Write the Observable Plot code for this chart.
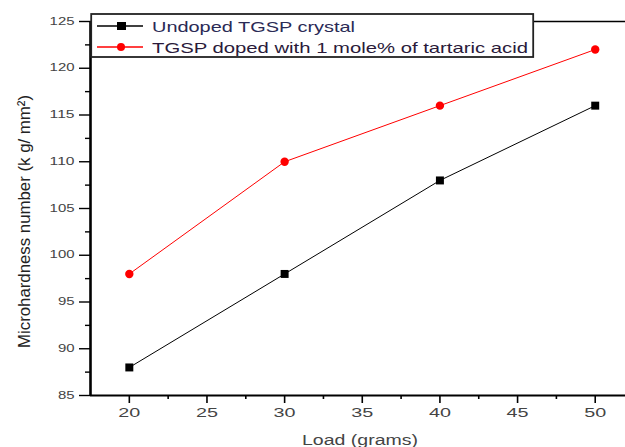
<!DOCTYPE html>
<html>
<head>
<meta charset="utf-8">
<script src="https://cdn.jsdelivr.net/npm/d3@7"></script>
<script src="https://cdn.jsdelivr.net/npm/@observablehq/plot@0.6"></script>
<style>
  html, body { margin: 0; padding: 0; background: #fff; }
  #wrap { position: relative; width: 625px; height: 447px; overflow: hidden; font-family: "Liberation Sans", Arial, sans-serif; }
  #legend { position: absolute; left: 90px; top: 13px; }
</style>
</head>
<body>
<div id="wrap"></div>
<script>
const loads = [20, 30, 40, 50];
const undoped = [88, 98, 108, 116];
const doped = [98, 110, 116, 122];
const seriesNames = ["Undoped TGSP crystal", "TGSP doped with 1 mole% of tartaric acid"];
const seriesColors = ["#000000", "#ff0000"];
const xMajor = [20, 25, 30, 35, 40, 45, 50];
const xMinor = [22.5, 27.5, 32.5, 37.5, 42.5, 47.5];
const yMajor = [85, 90, 95, 100, 105, 110, 115, 120, 125];
const yMinor = [87.5, 92.5, 97.5, 102.5, 107.5, 112.5, 117.5, 122.5];
const xTitle = "Load (grams)";
const yTitle = "Microhardness number (k g/ mm²)";

const data = [];
loads.forEach((x, i) => data.push({x, y: undoped[i], s: seriesNames[0]}));
loads.forEach((x, i) => data.push({x, y: doped[i], s: seriesNames[1]}));
const d0 = data.filter(d => d.s === seriesNames[0]);
const d1 = data.filter(d => d.s === seriesNames[1]);

const chart = Plot.plot({
  width: 625,
  height: 447,
  marginTop: 21,
  marginBottom: 52,
  marginLeft: 90,
  marginRight: 0,
  style: {fontFamily: "'Liberation Sans', Arial, sans-serif", background: "white"},
  x: {domain: [17.5, 51.95]},
  y: {domain: [85, 125]},
  marks: [
    Plot.axisX({ticks: xMajor, tickSize: 8, tickPadding: 5, fontSize: 12, color: "#444", stroke: "#000", strokeWidth: 1.6, label: null, tickFormat: d => String(d)}),
    Plot.axisX({ticks: xMinor, tickSize: 4, stroke: "#000", strokeWidth: 1.6, tickFormat: () => "", label: null}),
    Plot.axisY({ticks: yMajor, tickSize: 11, tickPadding: 5, fontSize: 10, color: "#444", stroke: "#000", strokeWidth: 1.4, label: null}),
    Plot.axisY({ticks: yMinor, tickSize: 5, stroke: "#000", strokeWidth: 1.4, tickFormat: () => "", label: null}),
    Plot.ruleY([85], {stroke: "#000", strokeWidth: 1.8}),
    Plot.ruleY([125], {stroke: "#000", strokeWidth: 1.3}),
    Plot.ruleX([17.5], {stroke: "#000", strokeWidth: 2.6}),
    Plot.line(d0, {x: "x", y: "y", stroke: seriesColors[0], strokeWidth: 1}),
    Plot.line(d1, {x: "x", y: "y", stroke: seriesColors[1], strokeWidth: 1}),
    Plot.dot(d0, {x: "x", y: "y", symbol: "square", r: 4.5, fill: seriesColors[0], stroke: "none"}),
    Plot.dot(d1, {x: "x", y: "y", symbol: "circle", r: 4.2, fill: seriesColors[1], stroke: "none"}),
    Plot.text([xTitle], {frameAnchor: "bottom", lineAnchor: "bottom", textAnchor: "middle", dy: 49, dx: 2, fontSize: 14, fill: "#444"}),
    Plot.text([yTitle], {frameAnchor: "left", textAnchor: "middle", lineAnchor: "middle", dx: -66, dy: 13, rotate: -90, fontSize: 17, fill: "#222"})
  ]
});
document.getElementById("wrap").appendChild(chart);

// widen text to match the horizontally stretched reference
chart.querySelectorAll('g[aria-label="x-axis tick label"] text').forEach(t => {
  if (t.textContent.length) { t.setAttribute("textLength", 11 * t.textContent.length); t.setAttribute("lengthAdjust", "spacingAndGlyphs"); }
});
chart.querySelectorAll('g[aria-label="y-axis tick label"] text').forEach(t => {
  if (t.textContent.length) { t.setAttribute("textLength", 8.3 * t.textContent.length); t.setAttribute("lengthAdjust", "spacingAndGlyphs"); }
});
chart.querySelectorAll('g[aria-label="text"] text').forEach(t => {
  if (t.textContent === xTitle) { t.setAttribute("textLength", 116); t.setAttribute("lengthAdjust", "spacingAndGlyphs"); }
  if (t.textContent === yTitle) { t.setAttribute("textLength", 253); t.setAttribute("lengthAdjust", "spacingAndGlyphs"); }
});

// Legend
const ns = "http://www.w3.org/2000/svg";
const leg = document.createElementNS(ns, "svg");
leg.setAttribute("id", "legend");
leg.setAttribute("width", 446);
leg.setAttribute("height", 47);
const box = document.createElementNS(ns, "rect");
box.setAttribute("x", 1.2); box.setAttribute("y", 1); box.setAttribute("width", 442); box.setAttribute("height", 43);
box.setAttribute("fill", "white"); box.setAttribute("stroke", "#222"); box.setAttribute("stroke-width", 1.8);
leg.appendChild(box);
const textLens = [203, 376];
seriesNames.forEach((name, i) => {
  const cy = 13 + i * 21;
  const ln = document.createElementNS(ns, "line");
  ln.setAttribute("x1", 7); ln.setAttribute("x2", 53); ln.setAttribute("y1", cy); ln.setAttribute("y2", cy);
  ln.setAttribute("stroke", seriesColors[i]); ln.setAttribute("stroke-width", 1.4);
  leg.appendChild(ln);
  let mk;
  if (i === 0) {
    mk = document.createElementNS(ns, "rect");
    mk.setAttribute("x", 27); mk.setAttribute("y", cy - 4); mk.setAttribute("width", 9); mk.setAttribute("height", 8);
  } else {
    mk = document.createElementNS(ns, "circle");
    mk.setAttribute("cx", 31); mk.setAttribute("cy", cy); mk.setAttribute("r", 4);
  }
  mk.setAttribute("fill", seriesColors[i]);
  leg.appendChild(mk);
  const t = document.createElementNS(ns, "text");
  t.setAttribute("x", 62); t.setAttribute("y", cy + 6);
  t.setAttribute("font-size", 15);
  t.setAttribute("font-family", "'Liberation Sans', Arial, sans-serif");
  t.setAttribute("textLength", textLens[i]);
  t.setAttribute("lengthAdjust", "spacingAndGlyphs");
  t.setAttribute("fill", i === 0 ? "#2a2a55" : "#2a1a3a");
  t.textContent = name;
  leg.appendChild(t);
});
document.getElementById("wrap").appendChild(leg);
</script>
</body>
</html>
